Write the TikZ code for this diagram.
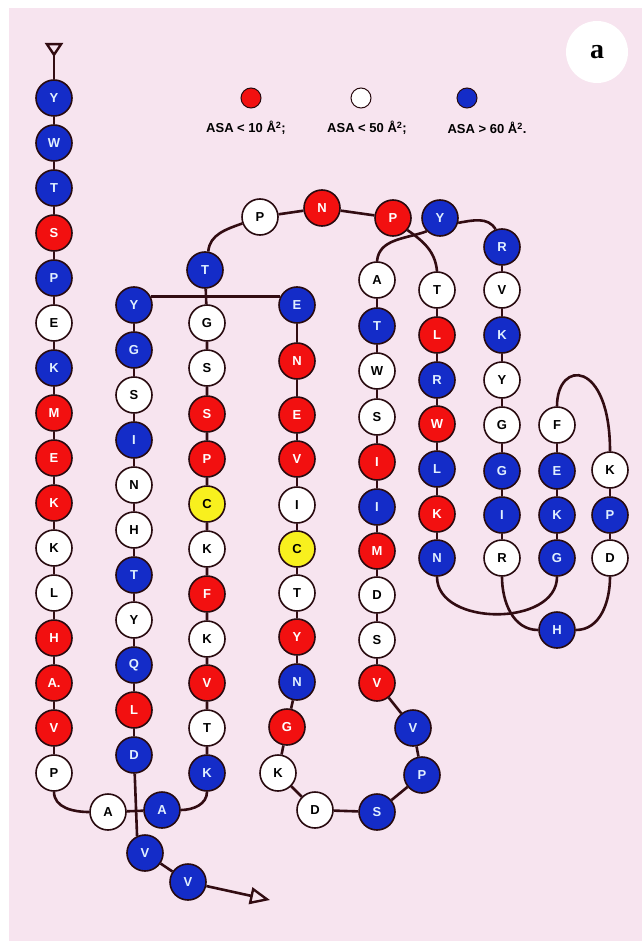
\documentclass[tikz,border=0pt]{standalone}
\usepackage{fontspec}
\setmainfont{Liberation Sans}
\newfontfamily\labelserif{Liberation Serif}
\usetikzlibrary{arrows.meta,backgrounds}

\definecolor{paper}{RGB}{247,228,239}
\definecolor{resred}{RGB}{242,16,16}
\definecolor{resblue}{RGB}{20,44,200}
\definecolor{resyellow}{RGB}{248,240,30}
\definecolor{bondcol}{RGB}{50,12,18}
\definecolor{rim}{RGB}{40,10,15}
\definecolor{bluetext}{RGB}{225,240,255}

\tikzset{
  res/.style={circle, draw=rim, line width=1.6pt, minimum size=36pt, inner sep=0pt,
              font=\fontsize{13}{13}\selectfont\bfseries},
  rd/.style={res, fill=resred, text=white},
  bl/.style={res, fill=resblue, text=bluetext},
  wh/.style={res, fill=white, text=black},
  yl/.style={res, fill=resyellow, text=black},
  link/.style={draw=bondcol, line width=2.6pt},
  keydot/.style={circle, draw=rim, line width=1pt, minimum size=20pt, inner sep=0pt},
  keytext/.style={font=\fontsize{13}{13}\selectfont\bfseries, inner sep=0pt},
  endtip/.style={-{Triangle[open, length=20pt, width=17pt, line width=2.4pt]}},
  starttip/.style={-{Triangle[open, reversed, length=14pt, width=18pt, line width=2.4pt]}},
}

\begin{document}
\begin{tikzpicture}[x=1pt, y=1pt]
\useasboundingbox (0,0) rectangle (642,-941);

% ---- strand 1 (N-terminal column)
\node[bl] (a1)  at (54,-98)  {Y};
\node[bl] (a2)  at (54,-143) {W};
\node[bl] (a3)  at (54,-188) {T};
\node[rd] (a4)  at (54,-233) {S};
\node[bl] (a5)  at (54,-278) {P};
\node[wh] (a6)  at (54,-323) {E};
\node[bl] (a7)  at (54,-368) {K};
\node[rd] (a8)  at (54,-413) {M};
\node[rd] (a9)  at (54,-458) {E};
\node[rd] (a10) at (54,-503) {K};
\node[wh] (a11) at (54,-548) {K};
\node[wh] (a12) at (54,-593) {L};
\node[rd] (a13) at (54,-638) {H};
\node[rd] (a14) at (54,-683) {A.};
\node[rd] (a15) at (54,-728) {V};
\node[wh] (a16) at (54,-773) {P};
\coordinate (nstart) at (54,-43);

% ---- bottom turn
\node[wh] (w1) at (108,-812) {A};
\node[bl] (w2) at (162,-810) {A};

% ---- strand 3 column
\node[bl] (c1)  at (205,-270) {T};
\node[wh] (c2)  at (207,-323) {G};
\node[wh] (c3)  at (207,-368) {S};
\node[rd] (c4)  at (207,-414) {S};
\node[rd] (c5)  at (207,-459) {P};
\node[yl] (c6)  at (207,-504) {C};
\node[wh] (c7)  at (207,-549) {K};
\node[rd] (c8)  at (207,-594) {F};
\node[wh] (c9)  at (207,-639) {K};
\node[rd] (c10) at (207,-683) {V};
\node[wh] (c11) at (207,-728) {T};
\node[bl] (c12) at (207,-773) {K};

% ---- top loop
\node[wh] (t1) at (260,-217) {P};
\node[rd] (t2) at (322,-208) {N};
\node[rd] (t3) at (393,-218) {P};
\node[bl] (t4) at (440,-218) {Y};

% ---- strand 6 column
\node[wh] (f1) at (437,-290) {T};
\node[rd] (f2) at (437,-335) {L};
\node[bl] (f3) at (437,-380) {R};
\node[rd] (f4) at (437,-424) {W};
\node[bl] (f5) at (437,-469) {L};
\node[rd] (f6) at (437,-514) {K};
\node[bl] (f7) at (437,-558) {N};

% ---- hairpin columns on the right
\node[wh] (h1) at (557,-425) {F};
\node[bl] (h2) at (557,-471) {E};
\node[bl] (h3) at (557,-515) {K};
\node[bl] (h4) at (557,-558) {G};
\node[wh] (i1) at (610,-470) {K};
\node[bl] (i2) at (610,-515) {P};
\node[wh] (i3) at (610,-558) {D};
\node[bl] (hh) at (557,-630) {H};

% ---- strand 7 column
\node[bl] (g1) at (502,-247) {R};
\node[wh] (g2) at (502,-290) {V};
\node[bl] (g3) at (502,-335) {K};
\node[wh] (g4) at (502,-380) {Y};
\node[wh] (g5) at (502,-425) {G};
\node[bl] (g6) at (502,-471) {G};
\node[bl] (g7) at (502,-515) {I};
\node[wh] (g8) at (502,-558) {R};

% ---- strand 5 column
\node[wh] (e1)  at (377,-280) {A};
\node[bl] (e2)  at (377,-326) {T};
\node[wh] (e3)  at (377,-371) {W};
\node[wh] (e4)  at (377,-417) {S};
\node[rd] (e5)  at (377,-462) {I};
\node[bl] (e6)  at (377,-507) {I};
\node[rd] (e7)  at (377,-551) {M};
\node[wh] (e8)  at (377,-595) {D};
\node[wh] (e9)  at (377,-640) {S};
\node[rd] (e10) at (377,-683) {V};

% ---- lower loop
\node[bl] (l1) at (413,-728) {V};
\node[bl] (l2) at (422,-775) {P};
\node[bl] (l3) at (377,-812) {S};
\node[wh] (l4) at (315,-810) {D};
\node[wh] (l5) at (278,-773) {K};
\node[rd] (l6) at (287,-727) {G};

% ---- strand 4 column
\node[bl] (d2)  at (297,-305) {E};
\node[rd] (d3)  at (297,-361) {N};
\node[rd] (d4)  at (297,-415) {E};
\node[rd] (d5)  at (297,-459) {V};
\node[wh] (d6)  at (297,-505) {I};
\node[yl] (d7)  at (297,-549) {C};
\node[wh] (d8)  at (297,-593) {T};
\node[rd] (d9)  at (297,-637) {Y};
\node[bl] (d10) at (297,-682) {N};

% ---- strand 2 column (C-terminal)
\node[bl] (b1)  at (134,-305) {Y};
\node[bl] (b2)  at (134,-350) {G};
\node[wh] (b3)  at (134,-395) {S};
\node[bl] (b4)  at (134,-440) {I};
\node[wh] (b5)  at (134,-485) {N};
\node[wh] (b6)  at (134,-530) {H};
\node[bl] (b7)  at (134,-575) {T};
\node[wh] (b8)  at (134,-620) {Y};
\node[bl] (b9)  at (134,-665) {Q};
\node[rd] (b10) at (134,-710) {L};
\node[bl] (b11) at (134,-755) {D};
\node[bl] (v1)  at (145,-853) {V};
\node[bl] (v2)  at (188,-882) {V};
\coordinate (cend) at (270,-900);

% ---- key
\node[keydot, fill=resred]  (k1) at (251,-98) {};
\node[keydot, fill=white]   (k2) at (361,-98) {};
\node[keydot, fill=resblue] (k3) at (467,-98) {};
\node[keytext] (kt1) at (246,-128) {ASA < 10 Å\textsuperscript{2};};
\node[keytext] (kt2) at (367,-128) {ASA < 50 Å\textsuperscript{2};};
\node[keytext] (kt3) at (487,-128) {ASA > 60 Å\textsuperscript{2}.};

% ---- panel tag
\node[circle, fill=white, minimum size=62pt, inner sep=0pt,
      font=\labelserif\fontsize{28}{28}\selectfont\bfseries] (tag) at (597,-52) {a};

\begin{pgfonlayer}{background}
  \fill[white] (0,0) rectangle (642,-941);
  \fill[paper] (9,-8) rectangle (642,-941);

  % chain bonds
  \draw[link, starttip] (a1) -- (nstart);
  \draw[link] (a1) -- (a2) -- (a3) -- (a4) -- (a5) -- (a6) -- (a7) -- (a8)
              -- (a9) -- (a10) -- (a11) -- (a12) -- (a13) -- (a14) -- (a15) -- (a16);
  \draw[link] (a16.south) to[out=-90, in=180] (w1.west);
  \draw[link] (w1) -- (w2);
  \draw[link] (w2.east) to[out=0, in=-90] (c12.south);
  \draw[link] (c12) -- (c11) -- (c10) -- (c9) -- (c8) -- (c7) -- (c6) -- (c5)
              -- (c4) -- (c3) -- (c2) -- (c1);
  \draw[link] (c1.80) to[out=85, in=200] (t1.200);
  \draw[link] (t1) -- (t2) -- (t3);
  \draw[link] (t3.-40) to[out=-35, in=95] (f1.north);
  \draw[link] (f1) -- (f2) -- (f3) -- (f4) -- (f5) -- (f6) -- (f7);
  \draw[link] (f7.south) .. controls +(0,-50) and +(0,-50) .. (h4.south);
  \draw[link] (h4) -- (h3) -- (h2) -- (h1);
  \draw[link] (h1.north) .. controls +(0,47) and +(0,92) .. (i1.north);
  \draw[link] (i1) -- (i2) -- (i3);
  \draw[link] (i3.south) to[out=-90, in=0] (hh.east);
  \draw[link] (hh.west) to[out=180, in=-90] (g8.south);
  \draw[link] (g8) -- (g7) -- (g6) -- (g5) -- (g4) -- (g3) -- (g2) -- (g1);
  \draw[link] (g1.110) to[out=120, in=10] (t4.-15);
  \draw[link] (t4.225) to[out=200, in=85] (e1.north);
  \draw[link] (e1) -- (e2) -- (e3) -- (e4) -- (e5) -- (e6) -- (e7) -- (e8)
              -- (e9) -- (e10);
  \draw[link] (e10) -- (l1) -- (l2) -- (l3) -- (l4) -- (l5) -- (l6) -- (d10);
  \draw[link] (d10) -- (d9) -- (d8) -- (d7) -- (d6) -- (d5) -- (d4) -- (d3) -- (d2);
  \draw[link] (d2.154) -- (b1.26);
  \draw[link] (b1) -- (b2) -- (b3) -- (b4) -- (b5) -- (b6) -- (b7) -- (b8)
              -- (b9) -- (b10) -- (b11);
  \draw[link] (b11) -- (v1.115);
  \draw[link] (v1) -- (v2);
  \draw[link, endtip] (v2) -- (cend);
\end{pgfonlayer}
\end{tikzpicture}
\end{document}
